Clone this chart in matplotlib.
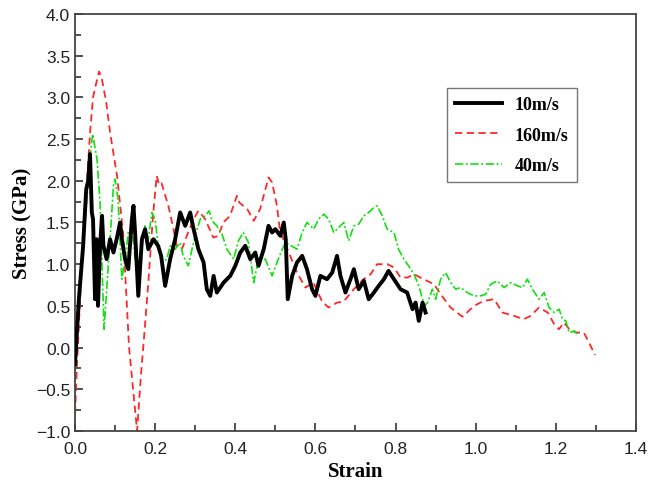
import matplotlib
matplotlib.use('Agg')
import matplotlib.pyplot as plt
import numpy as np

# 10 m/s
strain_10 = [0.0, 0.01, 0.02, 0.028, 0.033, 0.0375, 0.042, 0.045, 0.05, 0.054, 0.0575, 0.0625,
             0.0675, 0.071, 0.079, 0.0875, 0.096, 0.104, 0.1125, 0.117, 0.125, 0.133, 0.142, 0.146,
             0.15, 0.158, 0.167, 0.175, 0.183, 0.196, 0.2075, 0.215, 0.225, 0.2375, 0.25, 0.2625,
             0.275, 0.2875, 0.296, 0.308, 0.321, 0.329, 0.3375, 0.346, 0.354, 0.371, 0.3875, 0.4,
             0.4125, 0.425, 0.4375, 0.45, 0.458, 0.471, 0.483, 0.492, 0.5, 0.5125, 0.521, 0.526,
             0.531, 0.542, 0.554, 0.567, 0.579, 0.5917, 0.6, 0.6125, 0.629, 0.642, 0.654, 0.6625,
             0.675, 0.6875, 0.696, 0.708, 0.721, 0.733, 0.746, 0.758, 0.771, 0.7825, 0.796, 0.8125,
             0.829, 0.8425, 0.85, 0.858, 0.8675, 0.875]
stress_10 = [-0.2, 0.6, 1.2, 1.9, 2.0, 2.32, 1.62, 1.54, 0.58, 1.3, 0.5, 1.22,
             1.58, 1.22, 1.06, 1.3, 1.14, 1.3, 1.5, 1.3, 1.06, 0.94, 1.54, 1.7,
             1.38, 0.62, 1.3, 1.42, 1.18, 1.3, 1.22, 1.1, 0.74, 1.06, 1.3, 1.62,
             1.46, 1.62, 1.42, 1.18, 1.02, 0.7, 0.62, 0.86, 0.66, 0.78, 0.86, 0.98,
             1.14, 1.22, 1.06, 1.14, 0.98, 1.18, 1.46, 1.38, 1.42, 1.34, 1.5, 1.3,
             0.58, 0.86, 1.02, 1.1, 0.94, 0.7, 0.62, 0.86, 0.82, 0.9, 1.1, 0.86,
             0.66, 0.82, 0.94, 0.7, 0.8, 0.58, 0.66, 0.74, 0.82, 0.92, 0.82, 0.7,
             0.66, 0.46, 0.54, 0.32, 0.54, 0.42]

# 160 m/s
strain_160 = [0.0, 0.005, 0.012, 0.02, 0.03, 0.038, 0.045, 0.052, 0.06, 0.066, 0.078, 0.0875,
              0.105, 0.12, 0.135, 0.155, 0.165, 0.172, 0.183, 0.195, 0.204, 0.21, 0.216, 0.233,
              0.246, 0.254, 0.267, 0.279, 0.296, 0.308, 0.325, 0.345, 0.358, 0.37, 0.387, 0.404,
              0.41, 0.43, 0.446, 0.462, 0.483, 0.492, 0.504, 0.512, 0.52, 0.537, 0.554, 0.575,
              0.595, 0.617, 0.633, 0.654, 0.67, 0.696, 0.72, 0.738, 0.754, 0.78, 0.796, 0.8125,
              0.83, 0.846, 0.87, 0.896, 0.9125, 0.9375, 0.967, 0.996, 1.02, 1.046, 1.067, 1.096,
              1.12, 1.137, 1.158, 1.18, 1.196, 1.208, 1.22, 1.2375, 1.254, 1.27, 1.283, 1.298]
stress_160 = [-0.8, -0.2, 0.5, 1.3, 2.0, 2.6, 3.0, 3.15, 3.31, 3.25, 2.94, 2.58,
              2.06, 1.38, 0.0, -1.0, -0.3, 0.1, 0.78, 1.6, 2.06, 1.95, 1.97, 1.7,
              1.42, 1.22, 1.18, 1.34, 1.54, 1.64, 1.54, 1.32, 1.34, 1.5, 1.58, 1.82,
              1.74, 1.66, 1.52, 1.66, 2.04, 1.98, 1.7, 1.38, 1.3, 1.1, 0.9, 0.72,
              0.78, 0.55, 0.48, 0.54, 0.55, 0.7, 0.82, 0.88, 1.0, 1.0, 0.96, 0.84,
              0.84, 0.88, 0.82, 0.76, 0.64, 0.48, 0.37, 0.5, 0.56, 0.58, 0.42, 0.38,
              0.34, 0.38, 0.48, 0.42, 0.28, 0.22, 0.3, 0.2, 0.18, 0.18, 0.06, -0.09]

# 40 m/s
strain_40 = [0.0, 0.01, 0.02, 0.03, 0.038, 0.044, 0.055, 0.0625, 0.0725, 0.083, 0.0875, 0.096,
             0.1, 0.1075, 0.1125, 0.117, 0.125, 0.133, 0.142, 0.15, 0.158, 0.167, 0.175, 0.183,
             0.192, 0.2, 0.2075, 0.217, 0.229, 0.2375, 0.25, 0.2625, 0.27, 0.283, 0.292, 0.3,
             0.3125, 0.325, 0.335, 0.342, 0.354, 0.367, 0.379, 0.396, 0.408, 0.42, 0.433, 0.446,
             0.458, 0.475, 0.492, 0.504, 0.5175, 0.525, 0.54, 0.554, 0.567, 0.579, 0.596, 0.608,
             0.621, 0.633, 0.646, 0.658, 0.671, 0.683, 0.696, 0.708, 0.721, 0.733, 0.746, 0.754,
             0.767, 0.779, 0.796, 0.8075, 0.821, 0.8325, 0.846, 0.858, 0.8725, 0.88, 0.892, 0.9,
             0.9125, 0.925, 0.9375, 0.95, 0.9625, 0.979, 0.996, 1.0125, 1.025, 1.0375, 1.054,
             1.071, 1.0875, 1.104, 1.117, 1.129, 1.1417, 1.158, 1.171, 1.1833, 1.196, 1.2083,
             1.2167, 1.225, 1.233, 1.246, 1.254]
stress_40 = [-0.3, 0.5, 1.2, 1.8, 2.3, 2.56, 2.26, 1.74, 0.22, 0.98, 1.3, 1.94,
             2.02, 1.78, 1.26, 0.82, 1.06, 1.38, 1.46, 1.06, 0.9, 1.22, 1.46, 1.3,
             1.62, 1.54, 1.22, 1.02, 1.06, 1.22, 1.18, 1.26, 1.1, 0.98, 1.18, 1.34,
             1.54, 1.58, 1.64, 1.52, 1.46, 1.36, 1.18, 1.06, 1.28, 1.38, 1.26, 0.78,
             1.06, 1.06, 0.86, 1.02, 1.18, 1.26, 1.22, 1.18, 1.38, 1.5, 1.42, 1.54,
             1.6, 1.54, 1.38, 1.44, 1.5, 1.28, 1.46, 1.48, 1.58, 1.62, 1.68, 1.7,
             1.58, 1.42, 1.38, 1.18, 1.06, 0.98, 0.88, 0.74, 0.5, 0.54, 0.7, 0.58,
             0.82, 0.9, 0.78, 0.7, 0.72, 0.66, 0.62, 0.62, 0.64, 0.76, 0.8,
             0.72, 0.78, 0.74, 0.72, 0.82, 0.7, 0.58, 0.66, 0.48, 0.42, 0.46,
             0.34, 0.32, 0.18, 0.2, 0.16]

fig = plt.figure(figsize=(6.59, 4.85), dpi=100)
ax = fig.add_axes([0.1138, 0.1093, 0.8512, 0.8598])

ax.plot(strain_10, stress_10, color='black', lw=2.8, label='10m/s', zorder=3)
ax.plot(strain_160, stress_160, color='#ff2828', lw=1.3, ls=(0, (4, 2.5)), label='160m/s', zorder=2)
ax.plot(strain_40, stress_40, color='#10e010', lw=1.2, ls=(0, (5, 1.5, 1.2, 1.5)), label='40m/s', zorder=2)

ax.set_xlim(0, 1.4)
ax.set_ylim(-1.0, 4.0)
ax.set_xticks(np.arange(0, 1.41, 0.2))
ax.set_xticks(np.arange(0.1, 1.4, 0.2), minor=True)
ax.set_yticks(np.arange(-1.0, 4.01, 0.5))
ax.set_yticks(np.arange(-0.75, 4.0, 0.5), minor=True)
ax.tick_params(which='both', direction='in', top=False, right=False, color='#333333', width=1.2,
               labelsize=12.5, labelcolor='#222222', labelfontfamily='Liberation Sans')
ax.tick_params(which='major', length=6)
ax.tick_params(which='minor', length=4)
ax.tick_params(axis='x', pad=7)
for s in ax.spines.values():
    s.set_color('#444444')
    s.set_linewidth(1.3)

ax.set_xlabel('Strain', fontfamily='Liberation Serif', fontweight='bold', fontsize=15, labelpad=4)
ax.set_ylabel('Stress (GPa)', fontfamily='Liberation Serif', fontweight='bold', fontsize=15, labelpad=2)

leg = ax.legend(loc='upper left', bbox_to_anchor=(0.663, 0.8225), borderaxespad=0, fancybox=False,
                edgecolor='#555555', handlelength=2.6, labelspacing=0.75, borderpad=0.45,
                handletextpad=0.7, prop={'family': 'Liberation Serif', 'weight': 'bold', 'size': 13})
leg.get_frame().set_linewidth(1.0)

fig.savefig('out.png', dpi=100)
